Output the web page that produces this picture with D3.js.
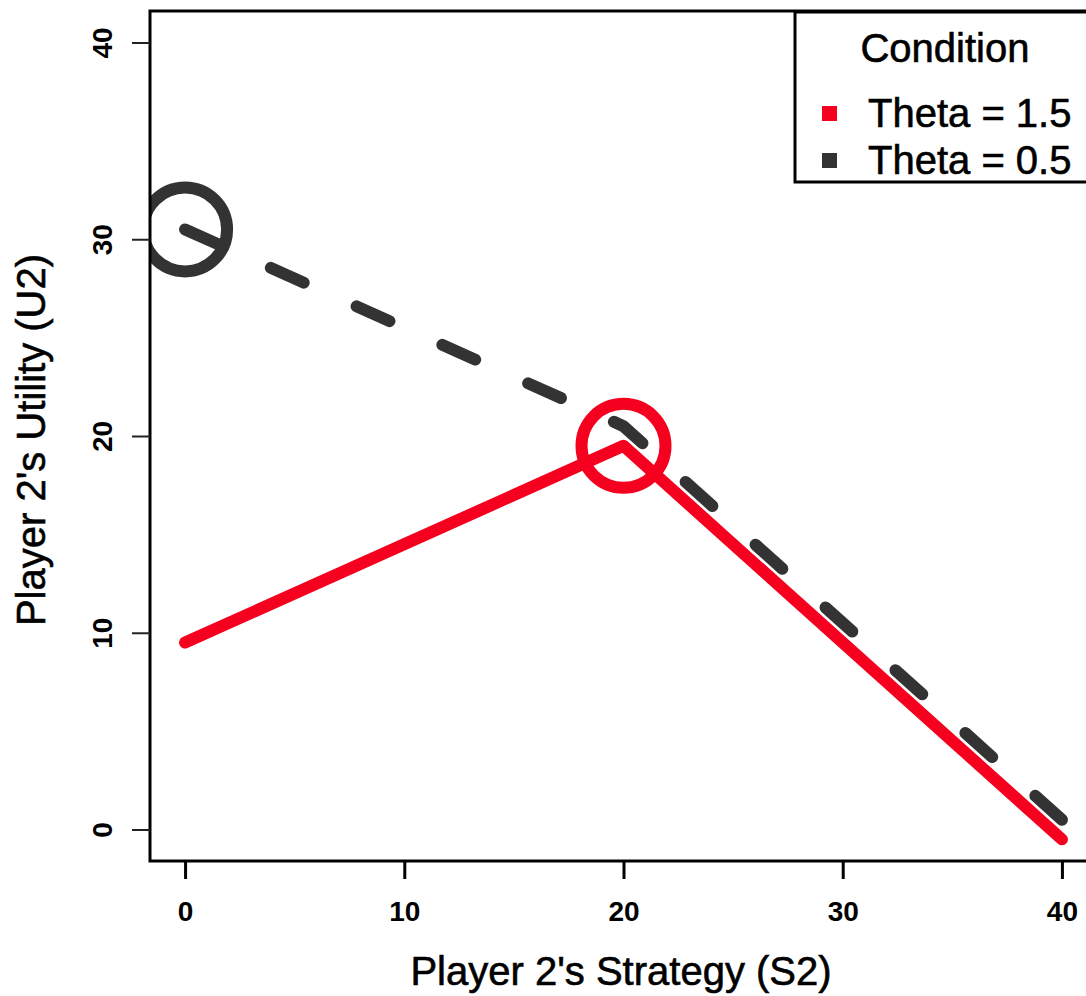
<!DOCTYPE html>
<html>
<head>
<meta charset="utf-8">
<script src="https://cdn.jsdelivr.net/npm/d3@7"></script>
<style>
  body { margin: 0; background: #fff; }
  svg { display: block; font-family: "Liberation Sans", Arial, sans-serif; }
</style>
</head>
<body>
<svg></svg>
<script>
var width = 1086;
var height = 996;

// data
var strategy = [0, 20, 40];
var utilHigh = [9.5, 19.5, -0.5];   // Theta = 1.5
var utilLow = [30.5, 20.5, 0.5];    // Theta = 0.5
var conditions = ['Theta = 1.5', 'Theta = 0.5'];
var colors = ['#f5001e', '#333333'];
var optimum = [1, 0];               // index of the circled point per condition
var ticks = [0, 10, 20, 30, 40];

var svg = d3.select('svg')
    .attr('width', width)
    .attr('height', height);

var xScale = d3.scaleLinear()
    .domain([-1.6, 41.6])
    .range([150, 1097]);

var yScale = d3.scaleLinear()
    .domain([-1.6, 41.6])
    .range([861, 11]);

// plot region clip, like R does
svg.append('clipPath')
    .attr('id', 'plotclip')
    .append('rect')
        .attr('x', xScale.range()[0])
        .attr('y', yScale.range()[1])
        .attr('width', xScale.range()[1] - xScale.range()[0])
        .attr('height', yScale.range()[0] - yScale.range()[1]);

var plot = svg.append('g').attr('clip-path', 'url(#plotclip)');

var series = [utilHigh, utilLow].map(function(u, i){
    return {
        name: conditions[i],
        color: colors[i],
        points: strategy.map(function(s, j){ return {s: s, u: u[j]}; }),
        opt: optimum[i]
    };
});

var line = d3.line()
    .x(d => xScale(d.s))
    .y(d => yScale(d.u));

// circles behind the lines
plot.selectAll('circle.opt')
    .data(series)
    .enter()
    .append('circle')
        .attr('class', 'opt')
        .attr('cx', d => xScale(d.points[d.opt].s))
        .attr('cy', d => yScale(d.points[d.opt].u))
        .attr('r', 42)
        .attr('fill', 'none')
        .attr('stroke', d => d.color)
        .attr('stroke-width', 12);

// dark dashed first, red solid on top
plot.append('path')
    .datum(series[1].points)
    .attr('d', line)
    .attr('fill', 'none')
    .attr('stroke', colors[1])
    .attr('stroke-width', 12)
    .attr('stroke-linecap', 'round')
    .attr('stroke-linejoin', 'round')
    .attr('stroke-dasharray', '36,58');

plot.append('path')
    .datum(series[0].points)
    .attr('d', line)
    .attr('fill', 'none')
    .attr('stroke', colors[0])
    .attr('stroke-width', 12)
    .attr('stroke-linecap', 'round')
    .attr('stroke-linejoin', 'round');

// frame (left, top, bottom)
svg.append('path')
    .attr('d', 'M1100,' + yScale.range()[1] + 'H' + xScale.range()[0] + 'V' + yScale.range()[0] + 'H1100')
    .attr('fill', 'none')
    .attr('stroke', '#000')
    .attr('stroke-width', 3);

// axes
var xAxis = d3.axisBottom(xScale)
    .tickValues(ticks)
    .tickSize(18)
    .tickPadding(22)
    .tickSizeOuter(0);

var yAxis = d3.axisLeft(yScale)
    .tickValues(ticks)
    .tickSize(18)
    .tickSizeOuter(0);

var gx = svg.append('g')
    .attr('transform', 'translate(0,' + yScale.range()[0] + ')')
    .call(xAxis);
gx.select('.domain').remove();
gx.selectAll('line').attr('stroke', '#000').attr('stroke-width', 3);
gx.selectAll('text')
    .attr('fill', '#000')
    .style('font-size', '28px')
    .style('font-weight', 'bold');

var gy = svg.append('g')
    .attr('transform', 'translate(' + xScale.range()[0] + ',0)')
    .call(yAxis);
gy.select('.domain').remove();
gy.selectAll('line').attr('stroke', '#222').attr('stroke-width', 2);
gy.selectAll('text')
    .attr('fill', '#000')
    .attr('x', null)
    .attr('dy', null)
    .attr('transform', 'translate(-38,0) rotate(-90)')
    .attr('text-anchor', 'middle')
    .style('font-size', '28px')
    .style('font-weight', 'bold');

// axis titles
svg.append('text')
    .attr('x', 621)
    .attr('y', 985)
    .attr('text-anchor', 'middle')
    .style('font-size', '40px')
    .style('stroke', '#000')
    .style('stroke-width', 0.6)
    .text("Player 2's Strategy (S2)");

svg.append('text')
    .attr('transform', 'translate(45,' + 440 + ') rotate(-90)')
    .attr('text-anchor', 'middle')
    .style('font-size', '40px')
    .style('stroke', '#000')
    .style('stroke-width', 0.6)
    .text("Player 2's Utility (U2)");

// legend
var legend = svg.append('g');

legend.append('rect')
    .attr('x', 795)
    .attr('y', 12)
    .attr('width', 320)
    .attr('height', 170)
    .attr('fill', '#fff')
    .attr('stroke', '#000')
    .attr('stroke-width', 3);

legend.append('text')
    .attr('x', 945)
    .attr('y', 62)
    .attr('text-anchor', 'middle')
    .style('font-size', '40px')
    .style('stroke', '#000')
    .style('stroke-width', 0.6)
    .text('Condition');

var items = legend.selectAll('g.item')
    .data(series)
    .enter()
    .append('g')
        .attr('class', 'item')
        .attr('transform', (d, i) => 'translate(0,' + (113 + i * 47) + ')');

items.append('rect')
    .attr('x', 822)
    .attr('y', -7)
    .attr('width', 15)
    .attr('height', 15)
    .attr('fill', d => d.color);

items.append('text')
    .attr('x', 868)
    .attr('y', 14)
    .style('font-size', '40px')
    .style('stroke', '#000')
    .style('stroke-width', 0.6)
    .text(d => d.name);
</script>
</body>
</html>
